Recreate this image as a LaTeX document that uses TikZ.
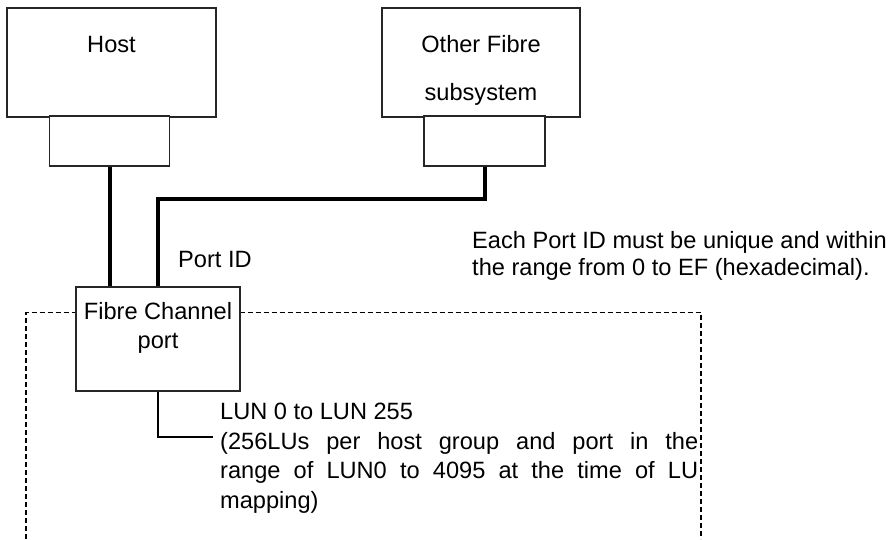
\documentclass[tikz,border=0pt]{standalone}
\usepackage{fontspec}
\setmainfont{Liberation Sans}
\tikzset{
  unit/.style={draw=black!85,line width=1.4pt,fill=white,inner sep=0pt},
  cable/.style={line width=4pt},
  zone/.style={line width=1.5pt,dash pattern=on 5pt off 3pt},
  txt/.style={inner sep=0pt,font=\fontsize{23.6}{28.5}\selectfont}
}
\begin{document}
\begin{tikzpicture}[x=1pt,y=-1pt]
\useasboundingbox (0,0) rectangle (896,539);

\draw[zone] (26,539) -- (26,312.5) -- (701,312.5) -- (701,539);

\node[unit,minimum width=209pt,minimum height=109pt] (host) at (111.5,62.5) {};
\node[unit,minimum width=120pt,minimum height=50pt] (hostport) at (109.5,141) {};
\node[unit,minimum width=198pt,minimum height=109pt] (other) at (481,62.5) {};
\node[unit,minimum width=121pt,minimum height=50pt] (otherport) at (484.5,141) {};
\node[unit,minimum width=164pt,minimum height=104pt] (fcport) at (158,339) {};

\node[txt,anchor=base] (hostlbl) at (111.5,52) {Host};
\node[txt,anchor=north,align=center,font=\fontsize{23.6}{48}\selectfont] (otherlbl) at (481,35) {Other Fibre\\subsystem};
\node[txt,anchor=north,align=center] (fclbl) at (158,302.5) {Fibre Channel\\port};
\node[txt,anchor=base west] (portid) at (178,267) {Port ID};
\node[txt,anchor=north west,align=left,font=\fontsize{23.6}{27.5}\selectfont] (rule) at (472,231)
  {Each Port ID must be unique and within\\the range from 0 to EF (hexadecimal).};
\node[txt,anchor=north west,text width=478pt,align=justify,font=\fontsize{23.6}{29.6}\selectfont] (lun) at (220,403)
  {LUN 0 to LUN 255\newline (256LUs per host group and port in the\linebreak range of LUN0 to 4095 at the time of LU\linebreak mapping)};

\draw[cable] (hostport.south) -- (hostport.south |- fcport.north);
\draw[cable] (otherport.south) -- ++(0,32) -| (fcport.north);

\coordinate (lunend) at (213,437);
\draw[line width=1.1pt] (fcport.south) |- (lunend);
\end{tikzpicture}
\end{document}
